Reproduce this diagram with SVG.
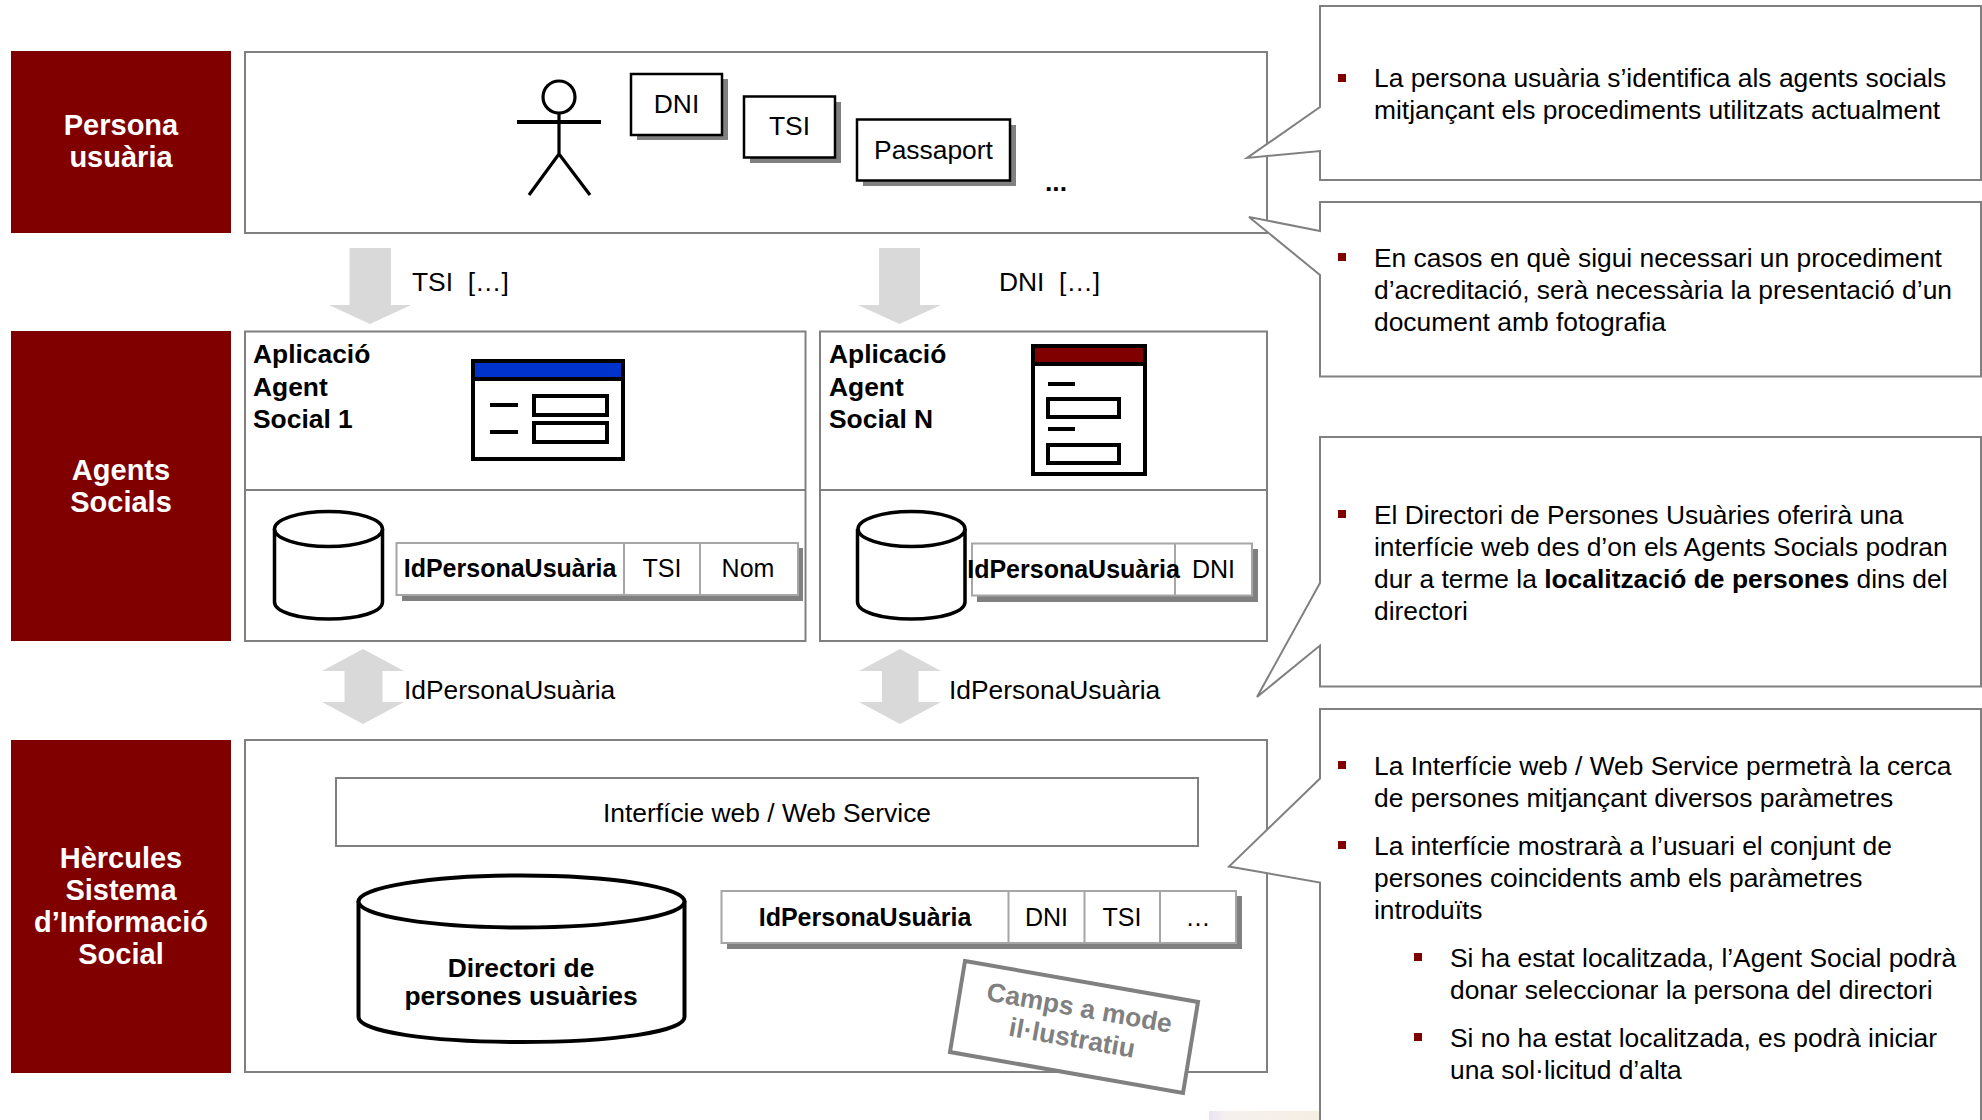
<svg xmlns="http://www.w3.org/2000/svg" width="1982" height="1120" viewBox="0 0 1982 1120">
<defs>
<linearGradient id="pale" x1="0" y1="0" x2="1" y2="0"><stop offset="0" stop-color="#e8e4f4"/><stop offset="0.15" stop-color="#f6f0ee"/><stop offset="1" stop-color="#f4eee2"/></linearGradient>
</defs>
<style>
text{font-family:"Liberation Sans",Arial,sans-serif;font-size:26.4px;fill:#000}
.b{font-weight:bold}
.m{text-anchor:middle}
.lab{font-weight:bold;fill:#fff;text-anchor:middle;font-size:29px}
.t{font-size:25px}
.panel{fill:#fff;stroke:#808080;stroke-width:2}
.div{fill:none;stroke:#808080;stroke-width:2}
.red{fill:#800000}
.card{fill:#fff;stroke:#000;stroke-width:2.5}
.cell{fill:#fff;stroke:#a6a6a6;stroke-width:2}
.sh{fill:#808080}
.blk{fill:none;stroke:#000;stroke-width:4}
.arrow{fill:#d9d9d9}
.call{fill:#fff;stroke:#808080;stroke-width:2}
.stamp{font-weight:bold;fill:#808080;text-anchor:middle}
</style>
<rect x="1209" y="1111" width="112" height="9" fill="url(#pale)"/>

<g id="node-persona-label"><rect class="red" x="11" y="51" width="220" height="182"/><text class="lab" x="121" y="135">Persona</text><text class="lab" x="121" y="167">usuària</text></g>
<g id="node-agents-label"><rect class="red" x="11" y="331" width="220" height="310"/><text class="lab" x="121" y="480">Agents</text><text class="lab" x="121" y="512">Socials</text></g>
<g id="node-hercules-label"><rect class="red" x="11" y="740" width="220" height="333"/><text class="lab" x="121" y="868">Hèrcules</text><text class="lab" x="121" y="900">Sistema</text><text class="lab" x="121" y="932">d’Informació</text><text class="lab" x="121" y="964">Social</text></g>

<g id="node-persona">
<rect class="panel" x="245" y="52" width="1022" height="181"/>
<g fill="none" stroke="#000" stroke-width="3.2">
<circle cx="559" cy="97" r="16"/><path d="M559 113V154L529 195M559 154L590 195"/><path d="M517 122H601" stroke-width="4"/>
</g>
<rect class="sh" x="637" y="79" width="91" height="61"/><rect class="card" x="631" y="74" width="91" height="61"/><text class="m" x="676.5" y="113">DNI</text>
<rect class="sh" x="750" y="102" width="91" height="61"/><rect class="card" x="744" y="96.500" width="91" height="61"/><text class="m" x="789.500" y="135">TSI</text>
<rect class="sh" x="863" y="125" width="153" height="61"/><rect class="card" x="857" y="119.500" width="153" height="61"/><text class="m" x="933.500" y="159">Passaport</text>
<text class="b" x="1045" y="191">...</text>
</g>

<g id="connectors">
<path class="arrow" d="M349.500 248H391V305H411L370 324L329 305H349.500Z"/>
<path class="arrow" d="M879 248H920V305H941L899.500 324L858 305H879Z"/>
<path class="arrow" d="M363 649L404 671H382.500V702H404L363 724L322 702H344.500V671H322Z"/>
<path class="arrow" d="M900 649L941 671H918.500V702H941L900 724L859 702H882V671H859Z"/>
</g>
<g id="connector-labels">
<text x="412" y="291" xml:space="preserve">TSI  […]</text>
<text x="999" y="291" xml:space="preserve">DNI  […]</text>
<text x="404" y="699">IdPersonaUsuària</text>
<text x="949" y="699">IdPersonaUsuària</text>
</g>

<g id="node-agent-1">
<rect class="panel" x="245" y="331.500" width="560.500" height="309.500"/><path class="div" d="M245 490H805.500"/>
<text class="b" x="253" y="363">Aplicació</text><text class="b" x="253" y="396">Agent</text><text class="b" x="253" y="428">Social 1</text>
<rect x="473" y="361" width="150" height="98" fill="#fff" stroke="#000" stroke-width="4"/>
<rect x="473" y="361" width="150" height="18" fill="#0033cc" stroke="#000" stroke-width="4"/>
<path d="M490 405H518M490 432H518" stroke="#000" stroke-width="4"/>
<rect class="blk" x="534" y="396" width="73" height="19"/><rect class="blk" x="534" y="423" width="73" height="19"/>
<path d="M274.500 529V602C274.500 612 298 619 328.500 619S382.500 612 382.500 602V529" fill="#fff" stroke="#000" stroke-width="3.500"/>
<ellipse cx="328.500" cy="529" rx="54" ry="17.500" fill="#fff" stroke="#000" stroke-width="3.500"/>
<rect class="sh" x="402" y="548" width="401" height="53"/>
<rect class="cell" x="396.500" y="543" width="401.500" height="52"/><path class="cell" d="M624 543V595M700 543V595"/>
<text class="b t m" x="510" y="577">IdPersonaUsuària</text><text class="t m" x="662" y="577">TSI</text><text class="t m" x="748" y="577">Nom</text>
</g>

<g id="node-agent-n">
<rect class="panel" x="820" y="331.500" width="447" height="309.500"/><path class="div" d="M820 490H1267"/>
<text class="b" x="829" y="363">Aplicació</text><text class="b" x="829" y="396">Agent</text><text class="b" x="829" y="428">Social N</text>
<rect x="1033" y="346" width="112" height="128" fill="#fff" stroke="#000" stroke-width="4"/>
<rect x="1033" y="346" width="112" height="18" fill="#800000" stroke="#000" stroke-width="4"/>
<path d="M1048 384H1075M1048 429H1075" stroke="#000" stroke-width="4"/>
<rect class="blk" x="1048" y="399" width="71" height="18"/><rect class="blk" x="1048" y="445" width="71" height="18"/>
<path d="M857.500 529V602C857.500 612 881 619 911.500 619S965 612 965 602V529" fill="#fff" stroke="#000" stroke-width="3.500"/>
<ellipse cx="911.500" cy="529" rx="53.500" ry="17.500" fill="#fff" stroke="#000" stroke-width="3.500"/>
<rect class="sh" x="977" y="549" width="281" height="53"/>
<rect class="cell" x="972" y="543.500" width="280" height="52"/><path class="cell" d="M1175 543.500V595.500"/>
<text class="b t m" x="1073.500" y="578">IdPersonaUsuària</text><text class="t m" x="1213.500" y="578">DNI</text>
</g>

<g id="node-hercules">
<rect class="panel" x="245" y="740" width="1022" height="332"/>
<rect class="panel" x="336" y="778" width="862" height="68"/>
<text class="m" x="767" y="822">Interfície web / Web Service</text>
<path d="M358.500 901V1017C358.500 1032 431 1042 521.500 1042S684.500 1032 684.500 1017V901" fill="#fff" stroke="#000" stroke-width="4"/>
<ellipse cx="521.500" cy="901.500" rx="163" ry="26" fill="#fff" stroke="#000" stroke-width="4"/>
<text class="b m" x="521" y="977">Directori de</text><text class="b m" x="521" y="1005">persones usuàries</text>
<rect class="sh" x="727" y="896" width="515" height="53"/>
<rect class="cell" x="721.500" y="891" width="514.500" height="52"/><path class="cell" d="M1008.500 891V943M1084.500 891V943M1160 891V943"/>
<text class="b t m" x="865" y="926">IdPersonaUsuària</text><text class="t m" x="1046.500" y="926">DNI</text><text class="t m" x="1122" y="926">TSI</text><text class="t m" x="1198" y="926">…</text>
</g>
<g id="node-stamp">
<polygon points="965,961 1198,1002 1183,1093 950,1052" fill="#fff" stroke="#808080" stroke-width="4"/>
<g transform="rotate(10 1074 1027)"><text class="stamp" x="1076" y="1016">Camps a mode</text><text class="stamp" x="1074" y="1047">il·lustratiu</text></g>
</g>

<g id="node-note-1">
<path class="call" d="M1320 107V6H1981V180H1320V151L1247 158Z"/>
<rect class="red" x="1338" y="74" width="8" height="8"/>
<text x="1374" y="87">La persona usuària s’identifica als agents socials</text><text x="1374" y="119">mitjançant els procediments utilitzats actualment</text>
</g>
<g id="node-note-2">
<path class="call" d="M1320 231V202H1981V376.500H1320V275L1249 217Z"/>
<rect class="red" x="1338" y="253" width="8" height="8"/>
<text x="1374" y="267">En casos en què sigui necessari un procediment</text><text x="1374" y="299">d’acreditació, serà necessària la presentació d’un</text><text x="1374" y="331">document amb fotografia</text>
</g>
<g id="node-note-3">
<path class="call" d="M1320 583V437H1981V686.500H1320V645.500L1257 697Z"/>
<rect class="red" x="1338" y="510" width="8" height="8"/>
<text x="1374" y="524">El Directori de Persones Usuàries oferirà una</text><text x="1374" y="556">interfície web des d’on els Agents Socials podran</text><text x="1374" y="588">dur a terme la <tspan class="b">localització de persones</tspan> dins del</text><text x="1374" y="620">directori</text>
</g>
<g id="node-note-4">
<path class="call" d="M1320 778.500V709H1981V1122H1320V882.500L1229 866.500Z"/>
<rect class="red" x="1338" y="761" width="8" height="8"/>
<text x="1374" y="775">La Interfície web / Web Service permetrà la cerca</text><text x="1374" y="807">de persones mitjançant diversos paràmetres</text>
<rect class="red" x="1338" y="841" width="8" height="8"/>
<text x="1374" y="855">La interfície mostrarà a l’usuari el conjunt de</text><text x="1374" y="887">persones coincidents amb els paràmetres</text><text x="1374" y="919">introduïts</text>
<rect class="red" x="1414" y="953" width="8" height="8"/>
<text x="1450" y="967">Si ha estat localitzada, l’Agent Social podrà</text><text x="1450" y="999">donar seleccionar la persona del directori</text>
<rect class="red" x="1414" y="1033" width="8" height="8"/>
<text x="1450" y="1047">Si no ha estat localitzada, es podrà iniciar</text><text x="1450" y="1079">una sol·licitud d’alta</text>
</g>
</svg>
